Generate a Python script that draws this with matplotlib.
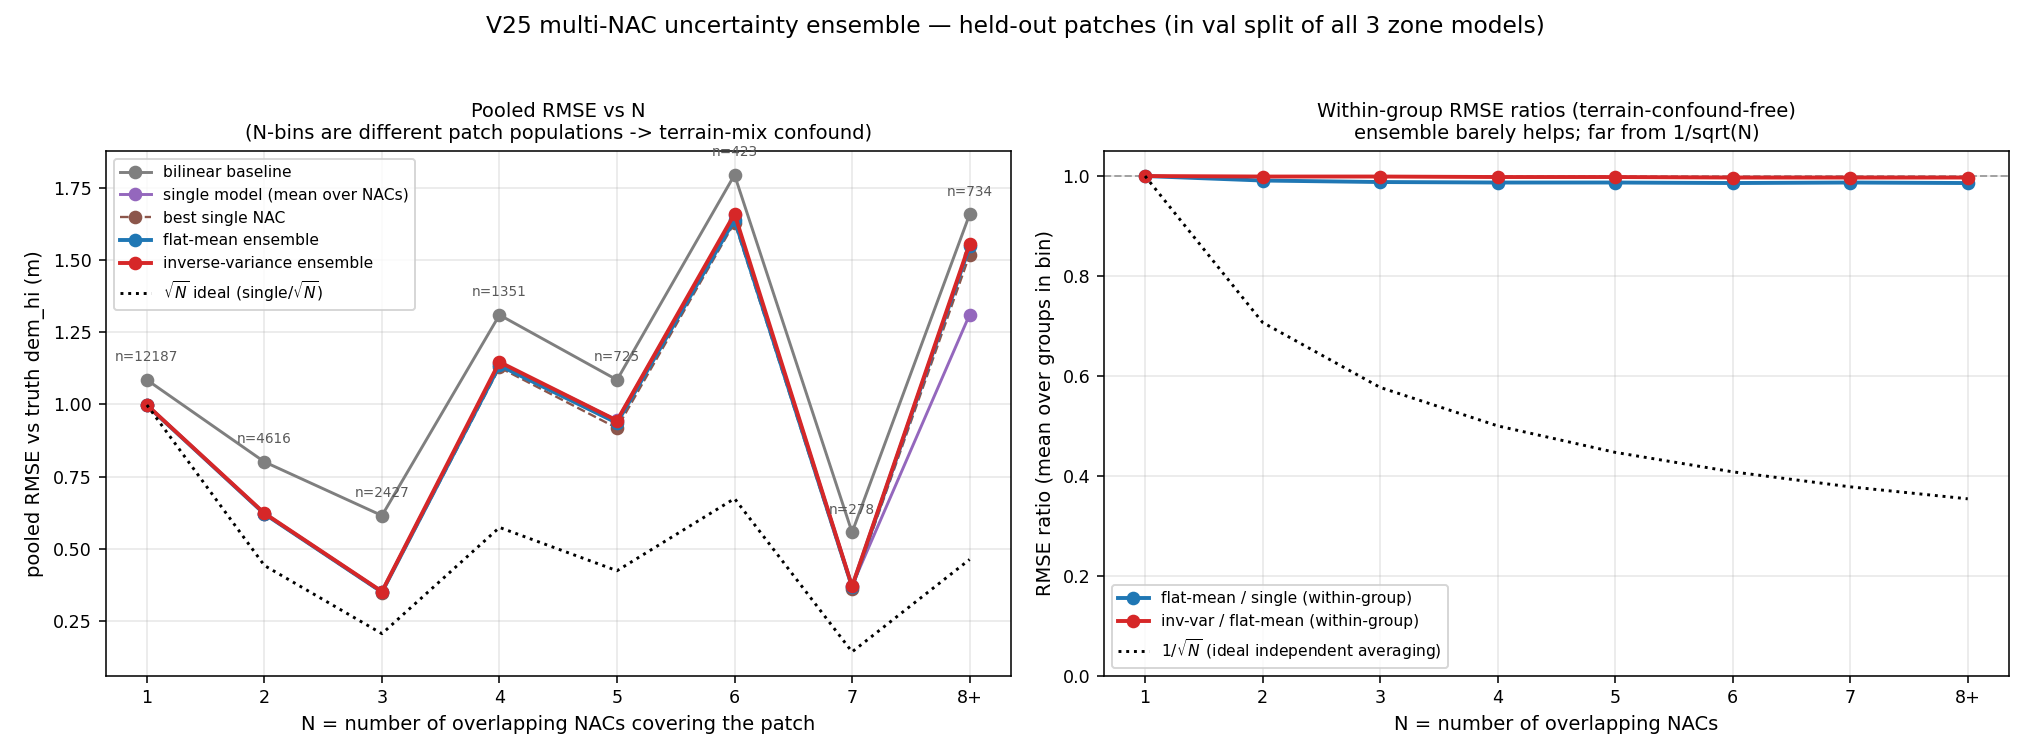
import matplotlib
matplotlib.use("Agg")
import matplotlib.pyplot as plt

# ---- data ----
n_labels = ["1", "2", "3", "4", "5", "6", "7", "8+"]
n_counts = [12187, 4616, 2427, 1351, 725, 423, 278, 734]

bilinear = [1.085, 0.801, 0.615, 1.31, 1.085, 1.795, 0.557, 1.658]
single_mean = [0.998, 0.622, 0.352, 1.145, 0.945, 1.655, 0.372, 1.311]
best_single = [0.997, 0.620, 0.348, 1.128, 0.918, 1.630, 0.362, 1.518]
flat_mean = [0.997, 0.621, 0.350, 1.135, 0.936, 1.640, 0.368, 1.547]
inv_var = [0.998, 0.623, 0.352, 1.147, 0.944, 1.660, 0.370, 1.556]
sqrt_ideal = [0.998, 0.442, 0.206, 0.574, 0.424, 0.674, 0.143, 0.463]

ratio_flat = [1.000, 0.991, 0.988, 0.987, 0.987, 0.986, 0.987, 0.986]
ratio_inv = [1.000, 0.999, 0.999, 0.998, 0.998, 0.997, 0.997, 0.997]
ratio_ideal = [1.000, 0.707, 0.577, 0.500, 0.447, 0.408, 0.378, 0.354]

x = list(range(1, len(n_labels) + 1))

plt.rcParams["xtick.labelsize"] = 9
plt.rcParams["ytick.labelsize"] = 9

dpi = 140
fig = plt.figure(figsize=(2030 / dpi, 756 / dpi), dpi=dpi)
ax1 = fig.add_axes([0.0521, 0.1062, 0.4458, 0.694])
ax2 = fig.add_axes([0.5438, 0.1062, 0.4458, 0.694])

fig.suptitle("V25 multi-NAC uncertainty ensemble \u2014 held-out patches (in val split of all 3 zone models)",
             fontsize=12, y=0.98)

# ---- left ----
ax1.plot(x, bilinear, "o-", color="tab:gray", lw=1.5, label="bilinear baseline")
ax1.plot(x, single_mean, "o-", color="tab:purple", lw=1.5, label="single model (mean over NACs)")
ax1.plot(x, best_single, "o--", color="tab:brown", lw=1.2, label="best single NAC")
ax1.plot(x, flat_mean, "o-", color="tab:blue", lw=2, label="flat-mean ensemble")
ax1.plot(x, inv_var, "o-", color="tab:red", lw=2, label="inverse-variance ensemble")
ax1.plot(x, sqrt_ideal, "k:", lw=1.5, label=r"$\sqrt{N}$ ideal (single/$\sqrt{N}$)")
for xi, yi, n in zip(x, bilinear, n_counts):
    ax1.annotate(f"n={n}", (xi, yi), xytext=(0, 8), textcoords="offset points",
                 ha="center", va="bottom", fontsize=7, color="0.35")
ax1.set_xticks(x)
ax1.set_xticklabels(n_labels)
ax1.set_xlabel("N = number of overlapping NACs covering the patch")
ax1.set_ylabel("pooled RMSE vs truth dem_hi (m)")
ax1.set_title("Pooled RMSE vs N\n(N-bins are different patch populations -> terrain-mix confound)", fontsize=10)
ax1.grid(alpha=0.3)
ax1.legend(loc="upper left", fontsize=8)

# ---- right ----
ax2.axhline(1.0, color="gray", ls="--", lw=1, alpha=0.7)
ax2.plot(x, ratio_flat, "o-", color="tab:blue", lw=2, label="flat-mean / single (within-group)")
ax2.plot(x, ratio_inv, "o-", color="tab:red", lw=2, label="inv-var / flat-mean (within-group)")
ax2.plot(x, ratio_ideal, "k:", lw=1.5, label=r"1/$\sqrt{N}$ (ideal independent averaging)")
ax2.set_xticks(x)
ax2.set_xticklabels(n_labels)
ax2.set_ylim(0, 1.05)
ax2.set_xlabel("N = number of overlapping NACs")
ax2.set_ylabel("RMSE ratio (mean over groups in bin)")
ax2.set_title("Within-group RMSE ratios (terrain-confound-free)\nensemble barely helps; far from 1/sqrt(N)", fontsize=10)
ax2.grid(alpha=0.3)
ax2.legend(loc="lower left", fontsize=8)

fig.savefig("out.png", dpi=dpi)
